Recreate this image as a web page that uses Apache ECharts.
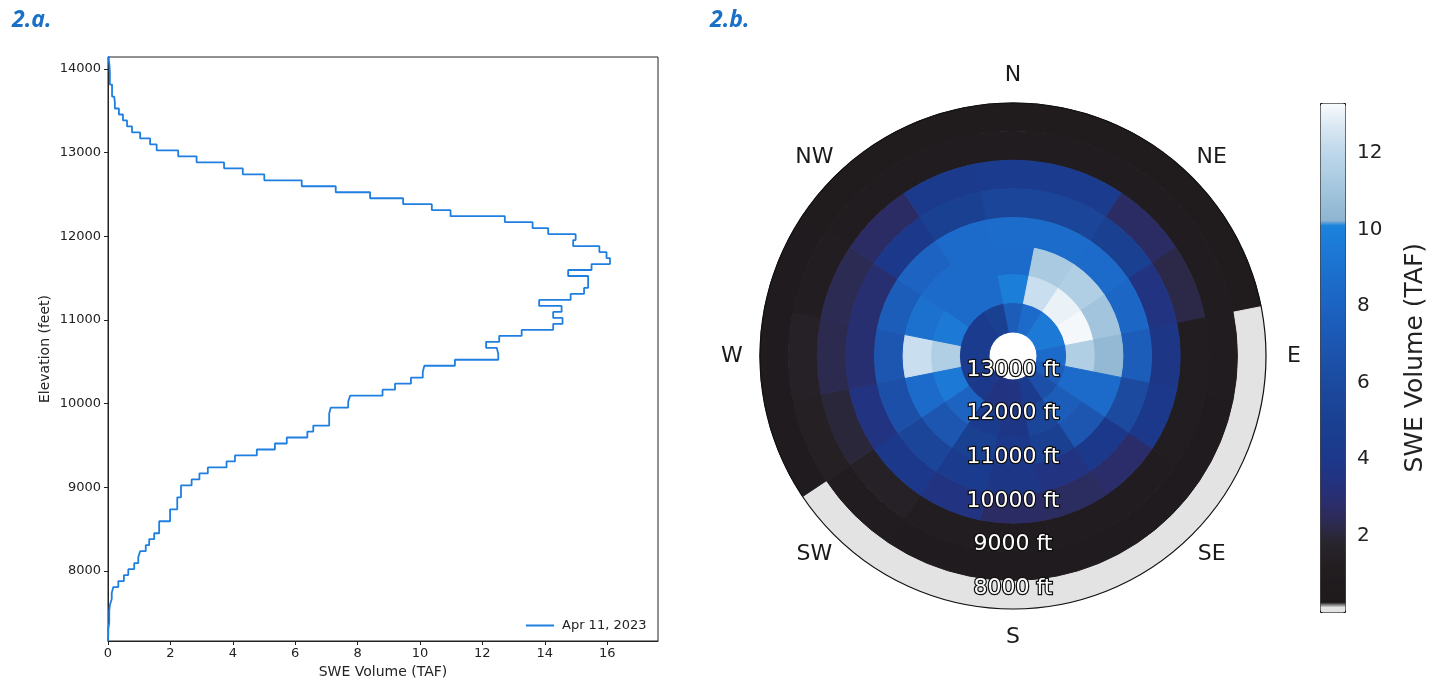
<!DOCTYPE html>
<html><head><meta charset="utf-8">
<script src="https://cdn.jsdelivr.net/npm/echarts@6/dist/echarts.min.js"></script>
<style>html,body{margin:0;padding:0;background:#fff}#c{width:1436px;height:686px}</style>
</head><body><div id="c"></div>
<script>
// ---------------- Panel 2.a : SWE volume by elevation band ----------------
const seriesName = 'Apr 11, 2023';
const elevBinStart = 7161;     // ft, lower edge of first elevation bin
const elevBinWidth = 71.55;    // ft
const sweByBin = [
  0.01,0.01,0.04,0.04,0.04,0.06,0.12,0.12,0.17,0.33,
  0.51,0.65,0.84,0.97,1.03,1.21,1.32,1.48,1.64,1.64,
  1.99,1.99,2.22,2.22,2.34,2.34,2.68,2.93,3.20,3.80,
  4.07,4.77,5.35,5.73,6.39,6.58,7.09,7.09,7.14,7.70,
  7.76,8.80,9.20,9.71,10.09,10.14,11.12,12.51,12.46,12.12,
  12.54,13.26,14.27,14.57,14.27,14.54,13.82,14.83,15.26,15.39,
  15.39,14.75,15.50,16.09,15.98,15.75,14.91,14.99,14.11,13.61,
  12.72,10.98,10.38,9.46,8.40,7.30,6.21,5.01,4.32,3.72,
  2.84,2.25,1.56,1.35,1.03,0.77,0.61,0.48,0.35,0.22,
  0.20,0.13,0.13,0.06,0.06,0.05,0.03,0.02
];
const elevTicks = [8000, 9000, 10000, 11000, 12000, 13000, 14000];
const sweTicks = [0, 2, 4, 6, 8, 10, 12, 14, 16];

// ---------------- Panel 2.b : SWE volume by aspect and elevation ----------------
const aspects = ['N','NNE','NE','ENE','E','ESE','SE','SSE','S','SSW','SW','WSW','W','WNW','NW','NNW'];
const bandEdgesM = [2300, 2500, 2700, 2900, 3100, 3300, 3500, 3700, 3900];
// rows: elevation band (low -> high), columns: aspects
const sweByBand = [
  [0.6,0.6,0.6,0.6,0,0,0,0,0,0,0,0.7,0.8,0.7,0.6,0.6],
  [0.9,0.9,0.9,0.9,0.9,0.8,0.8,0.8,0.8,0.8,0.9,1.4,1.5,1.2,0.9,0.9],
  [4.5,4.5,2.7,2.2,1.2,1.2,1.0,1.0,1.0,1.2,1.5,2.0,2.3,2.4,2.7,4.2],
  [5.5,5.5,5.0,3.5,3.8,4.0,2.8,2.6,2.7,3.5,4.0,3.5,3.0,3.0,4.0,5.0],
  [8.7,8.7,8.5,8.3,7.5,6.0,4.0,3.5,3.8,4.5,5.5,6.5,7.0,7.5,8.0,8.5],
  [8.5,11.3,11.5,11.0,10.5,8.5,7.0,5.0,4.0,5.0,7.0,8.5,12.3,9.0,8.5,8.5],
  [9.8,12.3,13.0,13.2,11.5,8.5,7.5,5.5,3.8,4.5,8.0,9.5,11.5,9.5,8.5,8.5],
  [7.5,8.5,9.5,9.5,8.5,7.5,6.5,4.5,3.5,3.5,4.0,4.5,4.5,4.5,4.5,5.0]
];
const compassLabels = ['N','NE','E','SE','S','SW','W','NW'];
const compassBearings = [0, 45, 90, 135, 180, 225, 270, 315];
const ringTicksFt = [8000, 9000, 10000, 11000, 12000, 13000];
const cbarTicks = [2, 4, 6, 8, 10, 12];
const cbarMin = 0, cbarMax = 13.3;

// ---------------- styles / layout ----------------
const FONT = 'DejaVu Sans';
const cmapStops = [
  [0.0,'#e3e3e3'],[0.19,'#e3e3e3'],
  [0.2,'#1e191b'],[1.2,'#221d20'],[1.8,'#29252d'],[2.3,'#2c2a4e'],[2.8,'#2b2d6a'],
  [3.4,'#23327f'],[4.0,'#1c388a'],[5.0,'#1a4092'],[6.0,'#1b4a9f'],[7.0,'#1c56b1'],
  [8.0,'#1c63c2'],[9.0,'#1c71cf'],[10.15,'#1b84dd'],[10.2,'#8cb3d0'],[11.0,'#a2c4dd'],
  [12.0,'#bdd7ea'],[12.7,'#dae8f3'],[13.3,'#f9fbfd']
];
function hex2rgb(h){return [1,3,5].map(i=>parseInt(h.substr(i,2),16));}
function cmap(v){
  for (let i=1;i<cmapStops.length;i++){
    if (v <= cmapStops[i][0]) {
      const [v0,c0]=cmapStops[i-1],[v1,c1]=cmapStops[i];
      const t = (v1===v0)?0:(v-v0)/(v1-v0);
      const a=hex2rgb(c0), b=hex2rgb(c1);
      return 'rgb('+a.map((x,j)=>Math.round(x+(b[j]-x)*t)).join(',')+')';
    }
  }
  return cmapStops[cmapStops.length-1][1];
}
const cmapColors = [];
for (let i=0;i<=532;i++) cmapColors.push(cmap(cbarMin + (cbarMax-cbarMin)*i/532));

const FT_PER_M = 3.28084;
const polarCenter = [1013, 356], polarR = 253, holePx = 24, compassGap = 28;
const rMinFt = bandEdgesM[0]*FT_PER_M;
const rTopFt = bandEdgesM[bandEdgesM.length-1]*FT_PER_M;
const ftPerPx = (rTopFt - rMinFt)/(polarR - holePx);
const rMaxFt = rTopFt + holePx*ftPerPx;

// ---------------- derived series data ----------------
const stepPts = [[0, elevBinStart]];
sweByBin.forEach((v,k)=>{
  const lo = elevBinStart + k*elevBinWidth;
  stepPts.push([v, lo], [v, lo + elevBinWidth]);
});
stepPts.push([0, elevBinStart + sweByBin.length*elevBinWidth]);

const secW = 360/aspects.length;
const cells = [];
sweByBand.forEach((row,b)=>row.forEach((v,s)=>{
  const midFt = (bandEdgesM[b]+bandEdgesM[b+1])/2*FT_PER_M;
  cells.push([midFt, s*secW, v, b, s]);
}));

function renderCell(params, api){
  const cs = params.coordSys, cx = cs.cx, cy = cs.cy;
  const b = api.value(3), s = api.value(4);
  const lowFt = bandEdgesM[b]*FT_PER_M, highFt = bandEdgesM[b+1]*FT_PER_M;
  const bm = s*secW, b0 = bm - secW/2, b1 = bm + secW/2;
  const pL = api.coord([lowFt, bm]), pH = api.coord([highFt, bm]);
  const rL = Math.hypot(pL[0]-cx, pL[1]-cy), rH = Math.hypot(pH[0]-cx, pH[1]-cy);
  const q0 = api.coord([lowFt, b0]), q1 = api.coord([lowFt, b1]);
  let a0 = Math.atan2(q0[1]-cy, q0[0]-cx), a1 = Math.atan2(q1[1]-cy, q1[0]-cx);
  if (a1 < a0) a1 += 2*Math.PI;
  const color = api.visual('color');
  return {type:'sector', shape:{cx, cy, r0:Math.min(rL,rH), r:Math.max(rL,rH), startAngle:a0, endAngle:a1, clockwise:true},
          style:{fill:color, stroke:color, lineWidth:1}};
}

const chart = echarts.init(document.getElementById('c'), null, {renderer:'canvas'});
const axisTxt = {color:'#222', fontFamily:FONT};
chart.setOption({
  animation:false,
  backgroundColor:'#fff',
  title:[
    {text:'2.a.', left:7, top:4, textStyle:{color:'#1a6fc6', fontSize:23, fontWeight:'bold', fontStyle:'italic', fontFamily:'Open Sans'}},
    {text:'2.b.', left:705, top:4, textStyle:{color:'#1a6fc6', fontSize:23, fontWeight:'bold', fontStyle:'italic', fontFamily:'Open Sans'}}
  ],
  legend:{data:[seriesName], left:521, top:614, itemWidth:28, itemHeight:12, icon:'path://M0,5L28,5L28,7L0,7Z',
    textStyle:{fontSize:13, color:'#222', fontFamily:FONT, padding:[0,0,0,3]}},
  grid:[
    {left:108, top:57, width:550, height:584, show:true, borderColor:'#222', borderWidth:1, backgroundColor:'transparent'},
    {left:1320, top:103, width:25, height:509.4, show:false}
  ],
  xAxis:[
    {gridIndex:0, type:'value', min:0, max:17.63, interval:2,
     name:'SWE Volume (TAF)', nameLocation:'middle', nameGap:24, nameTextStyle:{fontSize:14, ...axisTxt},
     axisLine:{show:true, lineStyle:{color:'#222'}}, splitLine:{show:false},
     axisTick:{show:true, length:4, lineStyle:{color:'#222'}, customValues:sweTicks},
     axisLabel:{fontSize:13, margin:6, customValues:sweTicks, formatter:v=>String(v), ...axisTxt}},
    {gridIndex:1, type:'value', show:false, min:0, max:1}
  ],
  yAxis:[
    {gridIndex:0, type:'value', min:7160, max:14145, interval:1000,
     name:'Elevation (feet)', nameLocation:'middle', nameGap:56, nameRotate:90, nameTextStyle:{fontSize:14, ...axisTxt},
     axisLine:{show:true, lineStyle:{color:'#222'}}, splitLine:{show:false},
     axisTick:{show:true, length:4, lineStyle:{color:'#222'}, customValues:elevTicks},
     axisLabel:{fontSize:13, margin:7, customValues:elevTicks, formatter:v=>String(v), ...axisTxt}},
    {gridIndex:1, type:'value', position:'right', min:cbarMin, max:cbarMax, interval:2,
     name:'SWE Volume (TAF)', nameLocation:'middle', nameGap:58, nameRotate:90, nameTextStyle:{fontSize:25, ...axisTxt},
     axisLine:{show:false}, splitLine:{show:false},
     axisTick:{show:true, length:5, lineStyle:{color:'#222'}, customValues:cbarTicks},
     axisLabel:{fontSize:20, margin:12, customValues:cbarTicks, formatter:v=>String(v), ...axisTxt}}
  ],
  polar:{center:polarCenter, radius:[0, polarR]},
  angleAxis:{type:'value', min:0, max:360, startAngle:90, clockwise:true, z:10,
    axisLine:{show:true, lineStyle:{color:'#111', width:1.2}}, axisTick:{show:false}, axisLabel:{show:false}, splitLine:{show:false}},
  radiusAxis:{type:'value', inverse:true, min:rMinFt, max:rMaxFt,
    axisLine:{show:false}, axisTick:{show:false}, axisLabel:{show:false}, splitLine:{show:false}},
  visualMap:{type:'continuous', seriesIndex:1, dimension:2, min:cbarMin, max:cbarMax, calculable:false, hoverLink:false,
    inRange:{color:cmapColors}, outOfRange:{color:'#e3e3e3'},
    left:1320, top:103, itemWidth:25, itemHeight:509, padding:0, borderColor:'#111', borderWidth:1, text:null},
  series:[
    {type:'line', name:seriesName, xAxisIndex:0, yAxisIndex:0, data:stepPts, symbol:'none',
     lineStyle:{color:'#1f7fe0', width:1.8}, itemStyle:{color:'#1f7fe0'}},
    {type:'custom', coordinateSystem:'polar', data:cells, renderItem:renderCell, encode:{radius:0, angle:1}, z:2},
    {type:'scatter', coordinateSystem:'polar', z:5, symbolSize:1, itemStyle:{color:'transparent', opacity:1},
     data:ringTicksFt.map(f=>[f,180]),
     label:{show:true, position:'inside', offset:[0,-1], formatter:p=>p.value[0]+' ft', fontSize:22, fontFamily:FONT,
            color:'#ffffff', textBorderColor:'#111', textBorderWidth:2.5}},
    {type:'scatter', coordinateSystem:'polar', z:5, symbolSize:1, itemStyle:{color:'transparent', opacity:1},
     data:compassBearings.map((b,i)=>({value:[rMinFt,b], name:compassLabels[i],
        label:{offset:[compassGap*Math.sin(b*Math.PI/180), -compassGap*Math.cos(b*Math.PI/180)]}})),
     label:{show:true, position:'inside', formatter:p=>p.name, fontSize:22, fontFamily:FONT, color:'#1a1a1a'}}
  ]
});
</script></body></html>
